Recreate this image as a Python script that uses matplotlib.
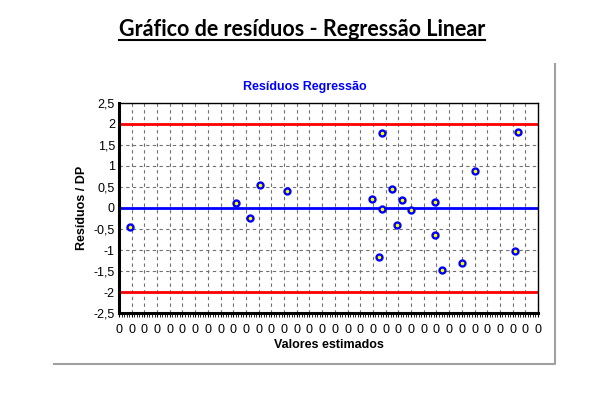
import numpy as np
import matplotlib
matplotlib.use('Agg')
import matplotlib.pyplot as plt
from matplotlib.ticker import MultipleLocator, AutoMinorLocator, FuncFormatter
from matplotlib.lines import Line2D

# valores estimados (todos arredondam para 0 no eixo) e residuos padronizados
estimados = [0.009, 0.092, 0.103, 0.111, 0.132, 0.199, 0.207, 0.207, 0.215, 0.223,
             0.230, 0.249, 0.280, 0.314, 0.219, 0.249, 0.205, 0.254, 0.270, 0.312]
residuos = [-0.45, 0.12, -0.24, 0.55, 0.40, 0.21, 1.78, -0.02, 0.45, 0.19,
            -0.05, 0.14, 0.88, 1.80, -0.40, -0.64, -1.16, -1.47, -1.31, -1.02]
limites = [-2, 2]

fig = plt.figure(figsize=(5.96, 4.08), dpi=100)
ax = fig.add_axes([119/596, 1 - 313.3/408, (538 - 119)/596, (313.3 - 102.7)/408])

ax.set_xlim(0, 0.33)
ax.set_ylim(-2.5, 2.5)
ax.xaxis.set_major_locator(MultipleLocator(0.01))
ax.xaxis.set_minor_locator(AutoMinorLocator(5))
ax.yaxis.set_major_locator(MultipleLocator(0.5))
ax.xaxis.set_major_formatter(FuncFormatter(lambda v, p: '%.0f' % v))
ax.yaxis.set_major_formatter(FuncFormatter(lambda v, p: ('%g' % v).replace('.', ',')))

ax.grid(True, color='#707070', linestyle=(0, (3, 3)), linewidth=0.8)
for y in limites:
    ax.axhline(y, color='red', linewidth=2)
ax.axhline(0, color='#0000ff', linewidth=2)

ax.plot(estimados, residuos, linestyle='none', marker='o', markersize=4.3,
        markerfacecolor='yellow', markeredgecolor='#0000ff', markeredgewidth=1.7)

for s in ['left', 'bottom']:
    ax.spines[s].set_linewidth(2.2)
for s in ['top', 'right']:
    ax.spines[s].set_linewidth(1)

ax.tick_params(axis='x', which='major', length=3, width=0.8, labelsize=9, pad=5)
ax.tick_params(axis='x', which='minor', length=3, width=0.6)
ax.tick_params(axis='y', length=0, labelsize=9, pad=3)
for lbl in ax.get_xticklabels() + ax.get_yticklabels():
    lbl.set_family('Liberation Sans')

ax.set_xlabel('Valores estimados', fontsize=9, fontweight='bold', family='Liberation Sans', labelpad=2)
ax.set_ylabel('Resíduos / DP', fontsize=9, fontweight='bold', family='Liberation Sans', labelpad=4)

fig.text(0.512, 1 - 87/408, 'Resíduos Regressão', ha='center', va='center', color='#0000ff',
         fontsize=9, fontweight='bold', family='Liberation Sans')

title = fig.text(0.507, 1 - 29/408, 'Gráfico de resíduos - Regressão Linear', ha='center', va='center',
                 fontsize=15.5, fontweight='bold', family='Lato')

# sublinhado do titulo
fig.canvas.draw()
bb = title.get_window_extent().transformed(fig.transFigure.inverted())
fig.add_artist(Line2D([bb.x0, bb.x1], [bb.y0 - 0.002, bb.y0 - 0.002], color='black', linewidth=1.5,
                      transform=fig.transFigure))

# moldura cinza (sombra) a direita e embaixo
fig.add_artist(Line2D([54/596, 555/596, 555/596], [1 - 364/408, 1 - 364/408, 1 - 64/408],
                      color='#a0a0a0', linewidth=1.5, transform=fig.transFigure))

fig.savefig('out.png', dpi=100)
